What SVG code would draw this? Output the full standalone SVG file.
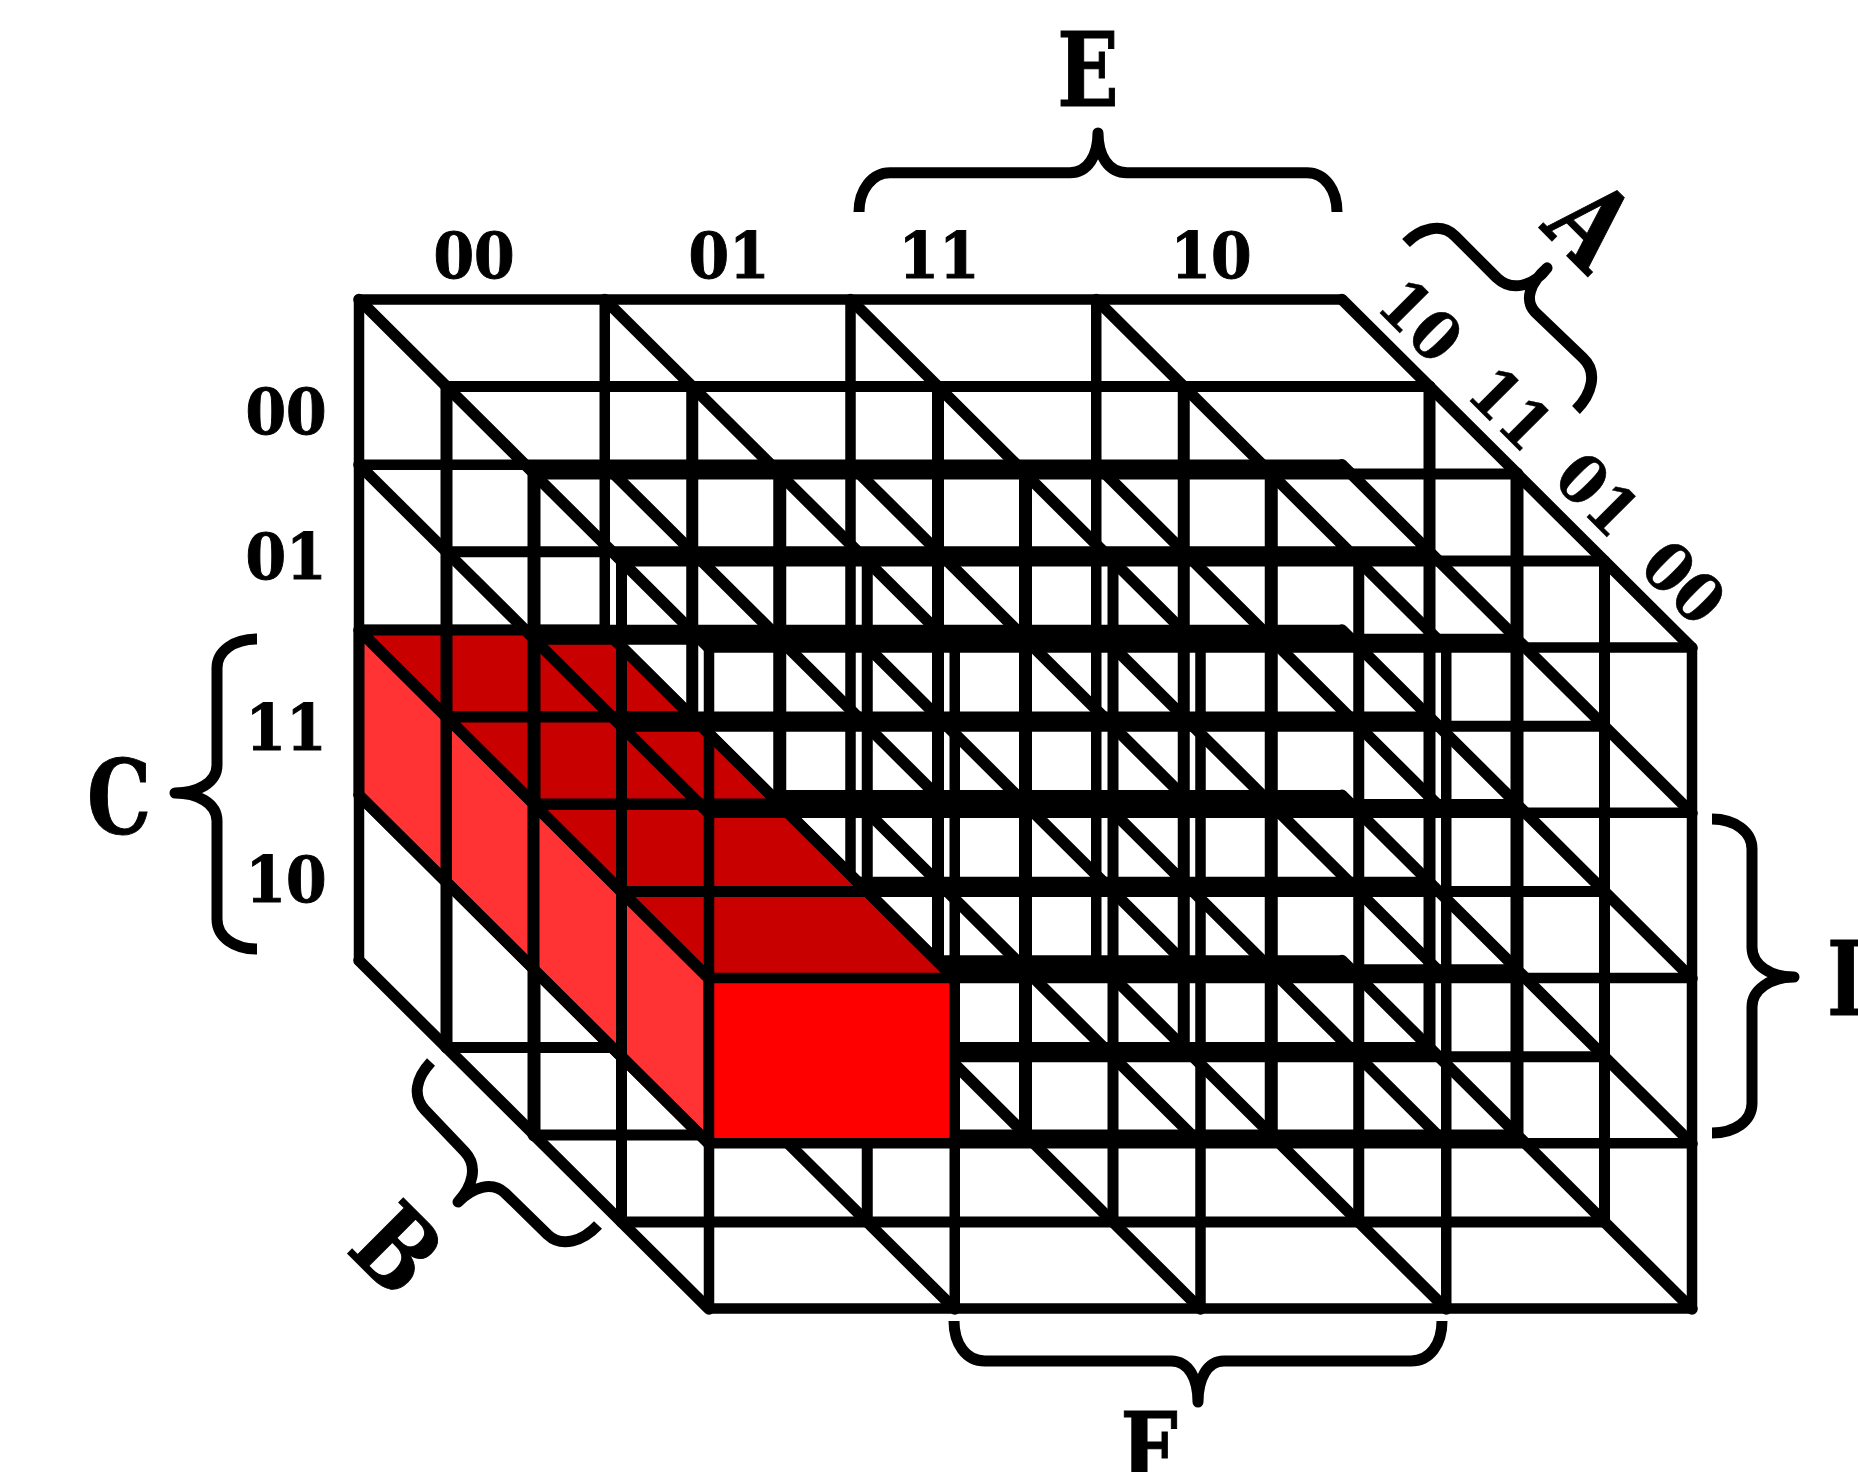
<svg xmlns="http://www.w3.org/2000/svg" xmlns:xlink="http://www.w3.org/1999/xlink" width="1858" height="1472" viewBox="0 0 1858 1472">
<style>
.g{fill:none;stroke:#000;stroke-linecap:round;stroke-linejoin:bevel}
.d{stroke-width:11.5}
.b{fill:none;stroke:#000;stroke-width:11;stroke-linejoin:round}
.top{fill:#c80000;stroke:#000;stroke-width:11;stroke-linejoin:bevel}
.left{fill:#ff3333;stroke:#000;stroke-width:11;stroke-linejoin:bevel}
.front{fill:#ff0000}
text{font-family:"DejaVu Serif Condensed","DejaVu Serif","Liberation Serif",serif;font-weight:700;fill:#000;stroke:#000;text-anchor:middle}
.n{font-size:63px;stroke-width:.9}
.r{font-size:66px;stroke-width:.5}
.l{font-size:103px;stroke-width:1}
</style>
<defs>
<path id="rows" d="M0,0H983M0,165.25H983M0,330.5H983M0,495.75H983M0,661H983"/>
<path id="cols" d="M0,0V661M245.75,0V661M491.5,0V661M737.25,0V661M983,0V661"/>
<path id="hid" d="M245.75,495.75l87.5,87"/>
<path id="diag" class="d" d="M0,0l87.5,87M245.75,0l87.5,87M491.5,0l87.5,87M737.25,0l87.5,87M983,0l87.5,87M0,165.25l87.5,87M245.75,165.25l87.5,87M491.5,165.25l87.5,87M737.25,165.25l87.5,87M983,165.25l87.5,87M0,330.5l87.5,87M245.75,330.5l87.5,87M491.5,330.5l87.5,87M737.25,330.5l87.5,87M983,330.5l87.5,87M0,495.75l87.5,87M491.5,495.75l87.5,87M737.25,495.75l87.5,87M983,495.75l87.5,87M0,661l87.5,87M245.75,661l87.5,87M491.5,661l87.5,87M737.25,661l87.5,87M983,661l87.5,87"/>
<g id="faces">
<path class="left" d="M0,330.5l87.5,87v165.25l-87.5,-87z"/>
<path class="top" d="M0,330.5h245.75l87.5,87h-245.75z"/>
</g>
</defs>
<rect width="1858" height="1472" fill="#fff"/>
<g id="cube">
<g id="plane0" class="g" stroke-width="10.5" transform="translate(359,299.5)">
<path d="M0,0H983M0,165.25H983M0,330.5H983M0,495.75H983M245.75,661H983"/>
<path d="M0,0V661M245.75,0V661M491.5,0V661M737.25,0V661"/>
<use href="#hid"/><use href="#faces"/><use href="#diag"/>
</g>
<g id="plane1" class="g" stroke-width="11" transform="translate(446.5,386.5)">
<use href="#rows"/><use href="#cols" stroke-width="12"/>
<use href="#hid"/><use href="#faces"/><use href="#diag"/>
</g>
<g id="plane2" class="g" stroke-width="11" transform="translate(534,474)">
<use href="#rows"/><use href="#cols" stroke-width="13"/>
<use href="#hid"/><use href="#faces"/><use href="#diag"/>
</g>
<g id="plane3" class="g" stroke-width="11" transform="translate(621.5,561)">
<use href="#rows"/><use href="#cols" stroke-width="11"/>
<use href="#hid"/><use href="#faces"/><use href="#diag"/>
</g>
<g id="plane4" class="g" stroke-width="10.5" transform="translate(709,647.5)">
<rect class="front" x="0" y="330.5" width="245.75" height="165.25" stroke="none"/>
<use href="#rows"/><use href="#cols"/>
</g>
</g>
<g id="braces">
<path id="brace-E" class="b" d="M859,212C859,190 872,172.7 890,172.7L1070,172.7C1088,172.7 1098,155 1098,133C1098,155 1108,172.7 1127,172.7L1307,172.7C1325,172.7 1337,190 1337,212"/>
<path id="brace-F" class="b" d="M954,1321C954,1344 966,1361 985,1361L1171,1361C1189,1361 1198,1379 1198,1402C1198,1379 1207,1361 1224,1361L1411,1361C1430,1361 1442,1344 1442,1321"/>
<path id="brace-C" class="b" d="M257,639C234,639 217,651 217,668L217,765C217,783 197,793 175,793C197,793 217,803 217,821L217,919C217,937 234,949 257,949"/>
<path id="brace-D" class="b" d="M1712,819C1735,819 1752,832 1752,849L1752,947C1752,965 1770,977 1794,977C1770,977 1752,990 1752,1007L1752,1103C1752,1121 1735,1133 1712,1133"/>
<path id="brace-A" class="b" d="M1406,243C1420,229 1441,222 1455,236L1497,278C1512,292 1534,286 1547,268C1530,283 1524,300 1535,312L1583,358C1598,372 1592,394 1576,410"/>
<path id="brace-B" class="b" d="M431,1062C416,1078 412,1096 425,1110L465,1152C478,1166 473,1186 458,1202C473,1187 492,1181 505,1193L548,1235C562,1248 583,1241 598,1225"/>
</g>
<g id="labels">
<text class="n" transform="translate(474,278) scale(1.03,1)">00</text>
<text class="n" transform="translate(729,278) scale(1.03,1)">01</text>
<text class="n" transform="translate(939,278) scale(1.03,1)">11</text>
<text class="n" transform="translate(1211,278) scale(1.03,1)">10</text>
<text class="n" transform="translate(286,434) scale(1.03,1)">00</text>
<text class="n" transform="translate(286,579) scale(1.03,1)">01</text>
<text class="n" transform="translate(286,749.5) scale(1.03,1)">11</text>
<text class="n" transform="translate(286,902) scale(1.03,1)">10</text>
<text class="r" transform="translate(1404,337) rotate(45) scale(1.03,1)">10</text>
<text class="r" transform="translate(1494,425) rotate(45) scale(1.03,1)">11</text>
<text class="r" transform="translate(1581,511) rotate(45) scale(1.03,1)">01</text>
<text class="r" transform="translate(1667,599) rotate(45) scale(1.03,1)">00</text>
<text class="l" transform="translate(1088,106) scale(.87,1)">E</text>
<text class="l" transform="translate(1149,1486) scale(.87,1)">F</text>
<text class="l" transform="translate(119,834) scale(.87,1)">C</text>
<text class="l" transform="translate(1862,1015) scale(.87,1)">D</text>
<text transform="translate(1563,252) rotate(45) scale(.87,1)" style="font-size:112px;stroke-width:1">A</text>
<text transform="translate(370,1276) rotate(45) scale(.87,1)" style="font-size:108px;stroke-width:1">B</text>
</g>
</svg>
